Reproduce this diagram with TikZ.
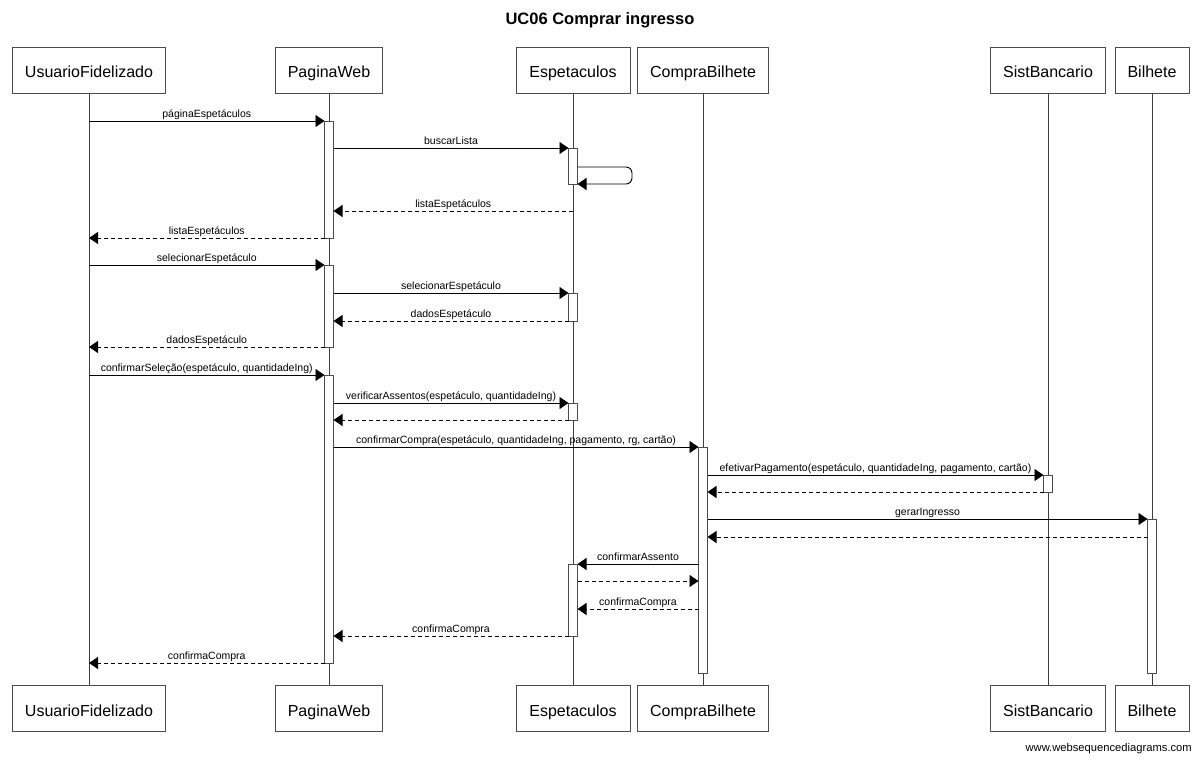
\documentclass[tikz,border=0pt]{standalone}
\usepackage{fontspec}
\setmainfont{Liberation Sans}
\usetikzlibrary{arrows.meta}
\newcommand\actbox[4]{%
  \pgfmathsetmacro\actym{(#3+#4)/2}%
  \pgfmathsetmacro\acthh{#4-#3}%
  \node[act, minimum height=\acthh pt] (#1) at (#2.south |- 0,\actym) {};}
\newcommand\msgline[5]{%
  \coordinate (tmpy) at (0,#4);
  \draw[#1] (#2 |- tmpy) -- node[lbl]{#5} (#3 |- tmpy);}
\begin{document}
\begin{tikzpicture}[x=1pt,y=-1pt,
  box/.style={draw=black!70, fill=white, line width=0.9pt, minimum height=46pt,
    inner sep=0pt, font=\fontsize{16}{19}\selectfont, text height=15pt, text depth=0pt},
  act/.style={draw=black!70, fill=white, line width=0.8pt, minimum width=9pt, inner sep=0pt, outer sep=0pt},
  life/.style={draw=black!75, line width=0.9pt},
  msg/.style={line width=0.9pt, -{Triangle[length=9pt,width=12pt]}},
  ret/.style={msg, dash pattern=on 4pt off 3pt},
  lbl/.style={anchor=base, yshift=3.5pt, font=\fontsize{10.5}{12}\selectfont, inner sep=0pt}]
\useasboundingbox (0,0) rectangle (1200,759);
\node[font=\fontsize{16.5}{20}\selectfont\bfseries, anchor=base, inner sep=0pt] (title) at (600,24.5) {UC06 Comprar ingresso};
% participant boxes
\node[box, minimum width=153pt] (uT) at (89,70) {UsuarioFidelizado};
\node[box, minimum width=107pt] (pT) at (329,70) {PaginaWeb};
\node[box, minimum width=114pt] (eT) at (573,70) {Espetaculos};
\node[box, minimum width=131pt] (cT) at (703,70) {CompraBilhete};
\node[box, minimum width=115pt] (sT) at (1048,70) {SistBancario};
\node[box, minimum width=74pt] (bT) at (1152,70) {Bilhete};
\node[box, minimum width=153pt] (uB) at (89,708.5) {UsuarioFidelizado};
\node[box, minimum width=107pt] (pB) at (329,708.5) {PaginaWeb};
\node[box, minimum width=114pt] (eB) at (573,708.5) {Espetaculos};
\node[box, minimum width=131pt] (cB) at (703,708.5) {CompraBilhete};
\node[box, minimum width=115pt] (sB) at (1048,708.5) {SistBancario};
\node[box, minimum width=74pt] (bB) at (1152,708.5) {Bilhete};
% lifelines
\draw[life] (uT.south) -- (uB.north);
\draw[life] (pT.south) -- (pB.north);
\draw[life] (eT.south) -- (eB.north);
\draw[life] (cT.south) -- (cB.north);
\draw[life] (sT.south) -- (sB.north);
\draw[life] (bT.south) -- (bB.north);
% activations
\actbox{p1}{pT}{121}{238}
\actbox{e1}{eT}{148}{184}
\actbox{p2}{pT}{265}{347}
\actbox{e2}{eT}{293}{321}
\actbox{p3}{pT}{375}{663}
\actbox{e3}{eT}{403}{420}
\actbox{c1}{cT}{447}{673}
\actbox{s1}{sT}{475}{492}
\actbox{b1}{bT}{519}{673}
\actbox{e4}{eT}{564}{636}
% messages
\msgline{msg}{uT.south}{p1.west}{121}{páginaEspetáculos}
\msgline{msg}{p1.east}{e1.west}{148}{buscarLista}
\coordinate (selfa) at (632,167);
\coordinate (selfb) at (632,184);
\draw[msg, rounded corners=6pt] (e1.east |- selfa) -- (selfa) -- (selfb) -- (e1.east |- selfb);
\msgline{ret}{eT.south}{p1.east}{211}{listaEspetáculos}
\msgline{ret}{p1.west}{uT.south}{238}{listaEspetáculos}
\msgline{msg}{uT.south}{p2.west}{265}{selecionarEspetáculo}
\msgline{msg}{p2.east}{e2.west}{293}{selecionarEspetáculo}
\msgline{ret}{e2.west}{p2.east}{321}{dadosEspetáculo}
\msgline{ret}{p2.west}{uT.south}{347}{dadosEspetáculo}
\msgline{msg}{uT.south}{p3.west}{375}{confirmarSeleção(espetáculo, quantidadeIng)}
\msgline{msg}{p3.east}{e3.west}{403}{verificarAssentos(espetáculo, quantidadeIng)}
\msgline{ret}{e3.west}{p3.east}{420}{}
\msgline{msg}{p3.east}{c1.west}{447}{confirmarCompra(espetáculo, quantidadeIng, pagamento, rg, cartão)}
\msgline{msg}{c1.east}{s1.west}{475}{efetivarPagamento(espetáculo, quantidadeIng, pagamento, cartão)}
\msgline{ret}{s1.west}{c1.east}{492}{}
\msgline{msg}{c1.east}{b1.west}{519}{gerarIngresso}
\msgline{ret}{b1.west}{c1.east}{537}{}
\msgline{msg}{c1.west}{e4.east}{564}{confirmarAssento}
\msgline{ret}{e4.east}{c1.west}{581}{}
\msgline{ret}{c1.west}{e4.east}{609}{confirmaCompra}
\msgline{ret}{e4.west}{p3.east}{636}{confirmaCompra}
\msgline{ret}{p3.west}{uT.south}{663}{confirmaCompra}
\node[anchor=base east, font=\fontsize{11.2}{13}\selectfont, inner sep=0pt] (wsd) at (1192,751.5) {www.websequencediagrams.com};
\end{tikzpicture}
\end{document}
